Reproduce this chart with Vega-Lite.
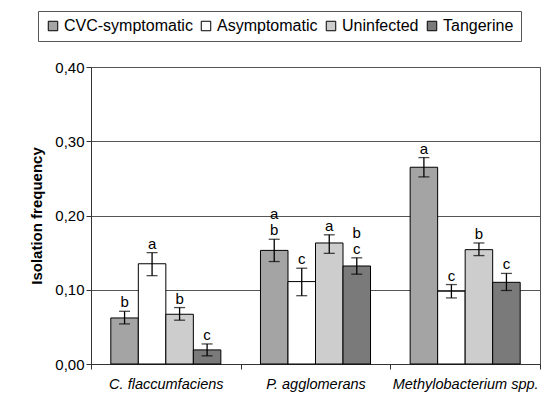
{
  "$schema": "https://vega.github.io/schema/vega-lite/v6.json",
  "width": 449,
  "height": 297,
  "autosize": "none",
  "padding": {"left": 91, "top": 67, "right": 18, "bottom": 54},
  "background": "white",
  "config": {
    "font": "Liberation Sans",
    "view": {"stroke": "#555", "strokeWidth": 1}
  },
  "data": {
    "values": [
      {"org": "C. flaccumfaciens", "type": "CVC-symptomatic", "value": 0.062, "lo": 0.054, "hi": 0.071, "letter": "b", "letter2": ""},
      {"org": "C. flaccumfaciens", "type": "Asymptomatic", "value": 0.135, "lo": 0.119, "hi": 0.150, "letter": "a", "letter2": ""},
      {"org": "C. flaccumfaciens", "type": "Uninfected", "value": 0.067, "lo": 0.059, "hi": 0.076, "letter": "b", "letter2": ""},
      {"org": "C. flaccumfaciens", "type": "Tangerine", "value": 0.019, "lo": 0.011, "hi": 0.027, "letter": "c", "letter2": ""},
      {"org": "P. agglomerans", "type": "CVC-symptomatic", "value": 0.153, "lo": 0.138, "hi": 0.168, "letter": "b", "letter2": "a"},
      {"org": "P. agglomerans", "type": "Asymptomatic", "value": 0.111, "lo": 0.092, "hi": 0.129, "letter": "c", "letter2": ""},
      {"org": "P. agglomerans", "type": "Uninfected", "value": 0.163, "lo": 0.149, "hi": 0.174, "letter": "a", "letter2": ""},
      {"org": "P. agglomerans", "type": "Tangerine", "value": 0.132, "lo": 0.121, "hi": 0.143, "letter": "c", "letter2": "b"},
      {"org": "Methylobacterium spp.", "type": "CVC-symptomatic", "value": 0.265, "lo": 0.252, "hi": 0.278, "letter": "a", "letter2": ""},
      {"org": "Methylobacterium spp.", "type": "Asymptomatic", "value": 0.098, "lo": 0.089, "hi": 0.107, "letter": "c", "letter2": ""},
      {"org": "Methylobacterium spp.", "type": "Uninfected", "value": 0.154, "lo": 0.146, "hi": 0.163, "letter": "b", "letter2": ""},
      {"org": "Methylobacterium spp.", "type": "Tangerine", "value": 0.110, "lo": 0.099, "hi": 0.122, "letter": "c", "letter2": ""}
    ]
  },
  "encoding": {
    "x": {
      "field": "org",
      "type": "nominal",
      "sort": ["C. flaccumfaciens", "P. agglomerans", "Methylobacterium spp."],
      "scale": {"paddingInner": 0, "paddingOuter": 0},
      "axis": {
        "title": null,
        "labelAngle": 0,
        "labelFontStyle": "italic",
        "labelFontSize": 14.5,
        "labelColor": "black",
        "tickBand": "extent",
        "tickSize": 5,
        "tickColor": "#333",
        "domainColor": "#333",
        "labelPadding": 8,
        "grid": false
      }
    },
    "xOffset": {
      "field": "type",
      "type": "nominal",
      "sort": ["CVC-symptomatic", "Asymptomatic", "Uninfected", "Tangerine"],
      "scale": {"paddingInner": 0, "paddingOuter": 0.72}
    }
  },
  "layer": [
    {
      "mark": {"type": "bar", "stroke": "black", "strokeWidth": 1},
      "encoding": {
        "y": {
          "field": "value",
          "type": "quantitative",
          "title": "Isolation frequency",
          "scale": {"domain": [0, 0.4], "nice": false},
          "axis": {
            "values": [0, 0.1, 0.2, 0.3, 0.4],
            "labelExpr": "replace(format(datum.value, '.2f'), '.', ',')",
            "labelFontSize": 15,
            "labelColor": "black",
            "titleFontSize": 15,
            "titleFontWeight": "bold",
            "titleColor": "black",
            "titlePadding": 10,
            "tickSize": 5,
            "tickColor": "#333",
            "domainColor": "#333",
            "grid": true,
            "gridColor": "#555",
            "gridOpacity": 1
          }
        },
        "color": {
          "field": "type",
          "type": "nominal",
          "sort": ["CVC-symptomatic", "Asymptomatic", "Uninfected", "Tangerine"],
          "scale": {
            "domain": ["CVC-symptomatic", "Asymptomatic", "Uninfected", "Tangerine"],
            "range": ["#a4a4a4", "#ffffff", "#cdcdcd", "#7a7a7a"]
          },
          "legend": {
            "orient": "none",
            "legendX": -53,
            "legendY": -56,
            "direction": "horizontal",
            "columns": 4,
            "title": null,
            "labelFontSize": 16,
            "labelColor": "black",
            "labelOffset": 3,
            "symbolType": "square",
            "symbolSize": 90,
            "symbolStrokeColor": "black",
            "symbolStrokeWidth": 1,
            "symbolOpacity": 1,
            "strokeColor": "#555",
            "fillColor": "white",
            "padding": 7,
            "columnPadding": 5
          }
        }
      }
    },
    {
      "mark": {"type": "rule", "color": "black", "strokeWidth": 1.3},
      "encoding": {
        "y": {"field": "lo", "type": "quantitative", "title": "Isolation frequency"},
        "y2": {"field": "hi"}
      }
    },
    {
      "mark": {"type": "tick", "color": "black", "size": 11, "thickness": 1.3},
      "encoding": {
        "y": {"field": "lo", "type": "quantitative", "title": "Isolation frequency"}
      }
    },
    {
      "mark": {"type": "tick", "color": "black", "size": 11, "thickness": 1.3},
      "encoding": {
        "y": {"field": "hi", "type": "quantitative", "title": "Isolation frequency"}
      }
    },
    {
      "mark": {"type": "text", "baseline": "alphabetic", "dy": -4, "fontSize": 15, "color": "black"},
      "encoding": {
        "y": {"field": "hi", "type": "quantitative", "title": "Isolation frequency"},
        "text": {"field": "letter"}
      }
    },
    {
      "mark": {"type": "text", "baseline": "alphabetic", "dy": -20, "fontSize": 15, "color": "black"},
      "encoding": {
        "y": {"field": "hi", "type": "quantitative", "title": "Isolation frequency"},
        "text": {"field": "letter2"}
      }
    }
  ]
}
